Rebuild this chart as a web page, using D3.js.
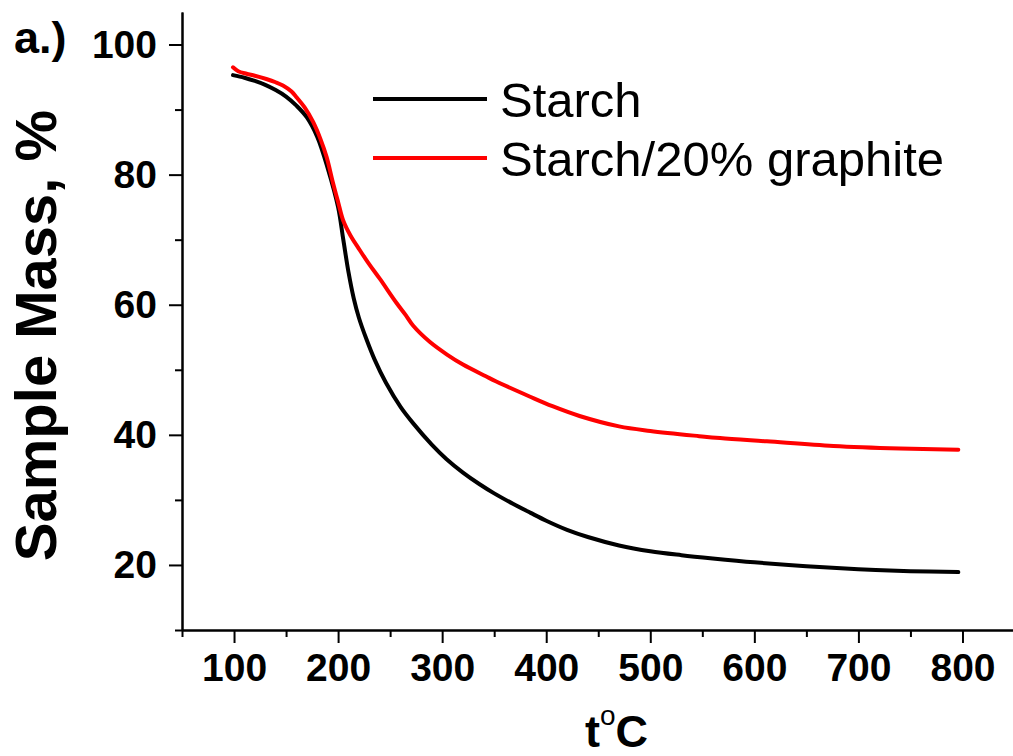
<!DOCTYPE html>
<html>
<head>
<meta charset="utf-8">
<script src="https://cdn.jsdelivr.net/npm/d3@7"></script>
<style>
  html, body { margin: 0; padding: 0; background: #fff; }
  svg { display: block; font-family: "Liberation Sans", Arial, sans-serif; }
</style>
</head>
<body>
<svg id="chart" width="1013" height="756"></svg>
<script>
// ---- Data ----
const starchTemp = [99, 110, 120, 130, 140, 150, 160, 170, 180, 190, 200, 205, 210, 215, 220, 227, 235, 246, 260, 272, 290, 304, 320, 336, 350, 368, 385, 400, 420, 440, 470, 500, 530, 560, 600, 650, 700, 750, 796];
const starchMass = [95.3, 94.9, 94.4, 93.8, 93.0, 92.0, 90.6, 88.8, 85.8, 81.0, 75.0, 70.0, 65.0, 61.0, 58.0, 54.8, 51.6, 48.0, 44.3, 41.8, 38.5, 36.3, 34.2, 32.4, 31.0, 29.4, 28.0, 26.8, 25.4, 24.3, 23.0, 22.1, 21.5, 21.0, 20.4, 19.8, 19.35, 19.05, 18.9];

const graphiteTemp = [99, 104, 112, 120, 131, 140, 147, 155, 160, 168, 176, 183, 189, 195, 200, 205, 212, 220, 230, 240, 256, 265, 272, 288, 305, 320, 342, 352, 384, 406, 432, 470, 500, 547, 567, 612, 676, 740, 796];
const graphiteMass = [96.5, 95.9, 95.5, 95.2, 94.7, 94.2, 93.7, 92.8, 91.9, 90.3, 88.1, 85.5, 82.7, 78.8, 75.8, 72.9, 70.6, 68.6, 66.2, 64.0, 60.3, 58.4, 56.8, 54.3, 52.3, 50.8, 49.0, 48.2, 45.9, 44.4, 42.9, 41.3, 40.6, 39.8, 39.5, 39.0, 38.3, 37.9, 37.7];

const seriesNames = ["Starch", "Starch/20% graphite"];
const seriesColors = ["#000000", "#ff0000"];

const xMajorTicks = [100, 200, 300, 400, 500, 600, 700, 800];
const xMinorTicks = [50, 150, 250, 350, 450, 550, 650, 750, 850];
const yMajorTicks = [20, 40, 60, 80, 100];
const yMinorTicks = [10, 30, 50, 70, 90];

const xTitle = "t";
const xTitleSup = "o";
const xTitleUnit = "C";
const yTitle = "Sample Mass, %";
const panelLabel = "a.)";

// ---- Layout ----
const svg = d3.select("#chart");
const plotLeft = 182, plotBottom = 630, plotTop = 12, plotRight = 1014.5;

const x = d3.scaleLinear().domain([50, 850]).range([plotLeft, plotRight]);
const y = d3.scaleLinear().domain([10, 105]).range([plotBottom, plotTop]);

// ---- Axes ----
const axisFont = "bold 39px 'Liberation Sans', Arial, sans-serif";

const gx = svg.append("g").attr("transform", `translate(0,${plotBottom})`)
  .call(d3.axisBottom(x).tickValues(xMajorTicks).tickSize(13).tickPadding(10).tickSizeOuter(0).tickFormat(d3.format("d")));
const gxm = svg.append("g").attr("transform", `translate(0,${plotBottom})`)
  .call(d3.axisBottom(x).tickValues(xMinorTicks).tickSize(7).tickSizeOuter(0).tickFormat(""));

const gy = svg.append("g").attr("transform", `translate(${plotLeft},0)`)
  .call(d3.axisLeft(y).tickValues(yMajorTicks).tickSize(13).tickPadding(12).tickSizeOuter(0).tickFormat(d3.format("d")));
const gym = svg.append("g").attr("transform", `translate(${plotLeft},0)`)
  .call(d3.axisLeft(y).tickValues(yMinorTicks).tickSize(7).tickSizeOuter(0).tickFormat(""));

[gx, gxm, gy, gym].forEach(g => {
  g.selectAll("path.domain").attr("stroke", "#000").attr("stroke-width", 2);
  g.selectAll(".tick line").attr("stroke", "#000").attr("stroke-width", 2);
  g.selectAll(".tick text").style("font", axisFont).attr("fill", "#000");
});

// ---- Lines ----
const line = d3.line().x(d => x(d[0])).y(d => y(d[1])).curve(d3.curveCatmullRom.alpha(0.5));
const series = [
  d3.zip(starchTemp, starchMass),
  d3.zip(graphiteTemp, graphiteMass)
];
series.forEach((s, i) => {
  svg.append("path").datum(s)
    .attr("d", line)
    .attr("fill", "none")
    .attr("stroke", seriesColors[i])
    .attr("stroke-width", 4)
    .attr("stroke-linejoin", "round")
    .attr("stroke-linecap", "round");
});

// ---- Legend ----
const legendY = [99, 158];
seriesNames.forEach((name, i) => {
  svg.append("line")
    .attr("x1", 373).attr("x2", 487)
    .attr("y1", legendY[i]).attr("y2", legendY[i])
    .attr("stroke", seriesColors[i]).attr("stroke-width", 4);
  svg.append("text")
    .attr("x", 500).attr("y", legendY[i] + 17.5)
    .style("font", "49px 'Liberation Sans', Arial, sans-serif")
    .attr("fill", "#000")
    .text(name);
});

// ---- Titles ----
const xt = svg.append("text")
  .attr("x", 585).attr("y", 747)
  .style("font", "bold 45px 'Liberation Sans', Arial, sans-serif")
  .attr("fill", "#000");
xt.append("tspan").text(xTitle);
xt.append("tspan").attr("dy", -22).style("font", "28px 'Liberation Sans', Arial, sans-serif").text(xTitleSup);
xt.append("tspan").attr("dy", 22).text(xTitleUnit);

svg.append("text")
  .attr("transform", "translate(56,335.5) rotate(-90)")
  .attr("text-anchor", "middle")
  .style("font", "bold 58px 'Liberation Sans', Arial, sans-serif")
  .attr("fill", "#000")
  .text(yTitle);

svg.append("text")
  .attr("x", 14).attr("y", 53)
  .style("font", "bold 45px 'Liberation Sans', Arial, sans-serif")
  .attr("fill", "#000")
  .text(panelLabel);
</script>
</body>
</html>
